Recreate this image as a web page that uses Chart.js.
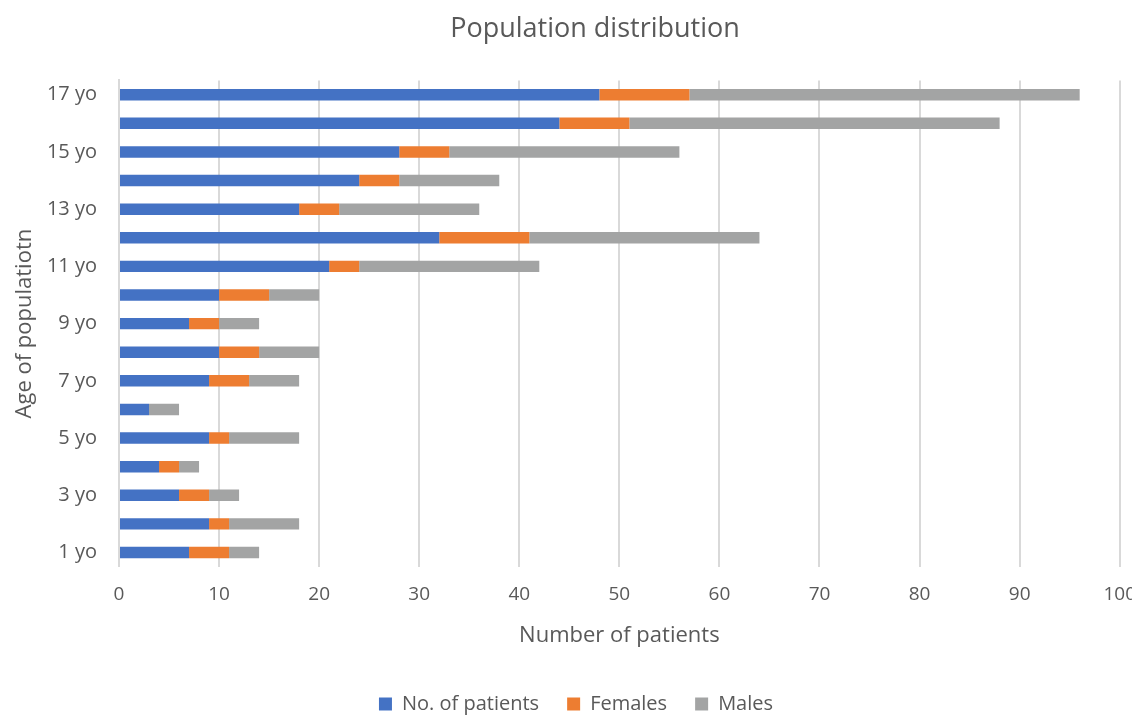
<!DOCTYPE html>
<html>
<head>
<meta charset="utf-8">
<script src="https://cdn.jsdelivr.net/npm/chart.js@4/dist/chart.umd.min.js"></script>
<style>
  html, body { margin: 0; padding: 0; background: #ffffff; overflow: hidden; }
  #wrap { position: relative; width: 1152px; height: 724px; }
</style>
</head>
<body>
<div id="wrap"><canvas id="c"></canvas></div>
<script>
// Age groups, top row first
const categories = ['17 yo','16 yo','15 yo','14 yo','13 yo','12 yo','11 yo','10 yo','9 yo','8 yo','7 yo','6 yo','5 yo','4 yo','3 yo','2 yo','1 yo'];
// Only every other age is labelled on the axis
const shownLabels = ['17 yo','15 yo','13 yo','11 yo','9 yo','7 yo','5 yo','3 yo','1 yo'];
const patients = [48, 44, 28, 24, 18, 32, 21, 10, 7, 10, 9, 3, 9, 4, 6, 9, 7];
const females  = [ 9,  7,  5,  4,  4,  9,  3,  5, 3,  4, 4, 0, 2, 2, 3, 2, 4];
const males    = [39, 37, 23, 10, 14, 23, 18,  5, 4,  6, 5, 3, 7, 2, 3, 7, 3];
const xTicks   = [0, 10, 20, 30, 40, 50, 60, 70, 80, 90, 100];

const textColor = '#595959';
const fontFamily = "'Open Sans', 'Noto Sans', sans-serif";

// Horizontal nudges for the title and legend blocks after layout
const blockOffsets = {
  id: 'blockOffsets',
  afterLayout(chart, args, opts) {
    const t = chart.titleBlock, l = chart.legend;
    if (t) { t.left += opts.title; t.right += opts.title; }
    if (l) { l.left += opts.legend; l.right += opts.legend; }
  }
};

new Chart(document.getElementById('c'), {
  type: 'bar',
  data: {
    labels: categories,
    datasets: [
      { label: 'No. of patients', data: patients, backgroundColor: '#4472C4' },
      { label: 'Females', data: females, backgroundColor: '#ED7D31' },
      { label: 'Males', data: males, backgroundColor: '#A3A4A4' }
    ]
  },
  plugins: [blockOffsets],
  options: {
    indexAxis: 'y',
    responsive: true,
    maintainAspectRatio: false,
    animation: false,
    layout: { padding: { left: 12, right: 0, top: 6, bottom: 0 } },
    datasets: { bar: { categoryPercentage: 0.8, barPercentage: 0.5 } },
    scales: {
      x: {
        stacked: true,
        min: 0,
        max: 100,
        afterBuildTicks: (axis) => { axis.ticks = xTicks.map(v => ({ value: v })); },
        grid: { color: '#d9d9d9', lineWidth: 2, drawTicks: false },
        border: { display: false },
        ticks: { color: textColor, font: { family: fontFamily, size: 19 }, padding: 16, maxRotation: 0 },
        title: { display: true, text: 'Number of patients', color: textColor, font: { family: fontFamily, size: 22 }, padding: { top: 1, bottom: 17 } }
      },
      y: {
        stacked: true,
        afterFit: (axis) => { axis.width = 107; },
        grid: { display: false, drawTicks: false },
        border: { display: true, color: '#d9d9d9', width: 2 },
        ticks: {
          autoSkip: false,
          color: textColor,
          font: { family: fontFamily, size: 20 },
          padding: 22,
          callback: function (value) {
            const lbl = this.getLabelForValue(value);
            return shownLabels.includes(lbl) ? lbl : '';
          }
        },
        title: { display: true, text: 'Age of populatiotn', color: textColor, font: { family: fontFamily, size: 22 }, padding: { top: 0, bottom: 4 } }
      }
    },
    plugins: {
      blockOffsets: { title: 13, legend: -6 },
      title: { display: true, text: 'Population distribution', color: textColor, font: { family: fontFamily, size: 27, weight: 'normal' }, padding: { top: 7, bottom: 35 } },
      legend: {
        position: 'bottom',
        labels: { color: textColor, font: { family: fontFamily, size: 20 }, boxWidth: 13, boxHeight: 13, padding: 28 }
      },
      tooltip: { enabled: false }
    }
  }
});
</script>
</body>
</html>
